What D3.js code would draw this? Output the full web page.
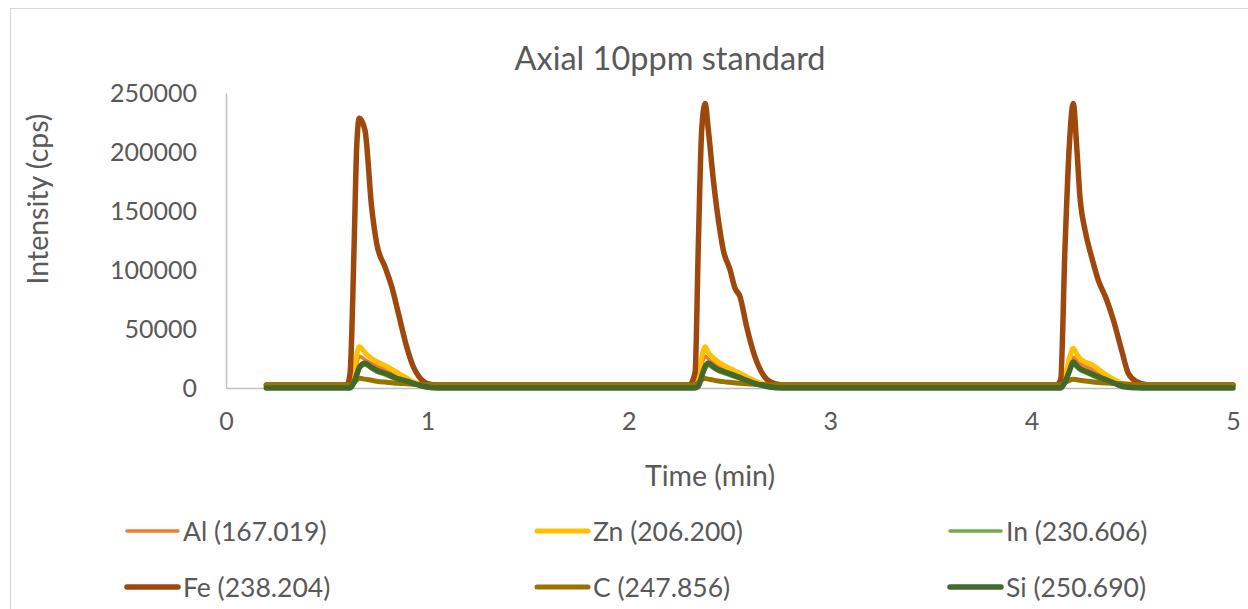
<!DOCTYPE html>
<html>
<head>
<meta charset="utf-8">
<script src="https://cdn.jsdelivr.net/npm/d3@7/dist/d3.min.js"></script>
<style>
  html, body { margin: 0; padding: 0; background: #ffffff; }
  svg { display: block; }
  text { font-family: Lato, "Open Sans", sans-serif; fill: #595959; }
</style>
</head>
<body>
<svg id="chart" width="1248" height="609"></svg>
<script>
// ---------------- data ----------------
const chartTitle = "Axial 10ppm standard";
const xAxisTitle = "Time (min)";
const yAxisTitle = "Intensity (cps)";
const xTicks = [0, 1, 2, 3, 4, 5];
const yTicks = [0, 50000, 100000, 150000, 200000, 250000];

const seriesNames = ["Al (167.019)", "Zn (206.200)", "In (230.606)", "Fe (238.204)", "C (247.856)", "Si (250.690)"];

const timeMin = [
  0.2, 0.60, 0.616, 0.636, 0.649, 0.662, 0.690, 0.723, 0.748, 0.789, 0.823, 0.856, 0.897, 0.930, 0.963, 0.997, 1.05,
  2.30, 2.329, 2.345, 2.362, 2.379, 2.395, 2.420, 2.445, 2.469, 2.503, 2.527, 2.552, 2.585, 2.626, 2.668, 2.701, 2.76,
  4.12, 4.144, 4.166, 4.187, 4.207, 4.224, 4.240, 4.265, 4.298, 4.331, 4.373, 4.406, 4.447, 4.480, 4.522, 4.58, 5.0
];

const alValues = [
  2500, 2500, 2800, 9000, 20000, 27000, 24000, 21000, 19000, 16000, 13000, 10000, 7000, 4500, 3000, 2500, 2500,
  2500, 2500, 7000, 19000, 27000, 24500, 21000, 18500, 16500, 14000, 12000, 10000, 7000, 4500, 3000, 2500, 2500,
  2500, 2500, 7000, 19000, 26000, 23500, 21000, 18500, 16000, 13000, 9000, 6000, 3500, 3000, 2500, 2500, 2500
];
const znValues = [
  2500, 2500, 3000, 12000, 28000, 35000, 30000, 25000, 22500, 19000, 16000, 12500, 8500, 5300, 3500, 2500, 2500,
  2500, 2500, 10000, 26000, 35000, 30000, 25500, 22000, 19500, 16500, 14500, 12500, 9500, 6000, 3500, 2500, 2500,
  2500, 2500, 10000, 25000, 33600, 29000, 25000, 22000, 20000, 16000, 11000, 7500, 4000, 3200, 2500, 2500, 2500
];
const inValues = [
  0, 0, 0, 4000, 10000, 16000, 19500, 16000, 13500, 11000, 8500, 6500, 4500, 3000, 1300, 400, 0,
  0, 0, 1000, 8500, 16000, 19000, 16500, 14000, 12500, 10500, 9000, 7500, 5300, 3000, 1300, 400, 0,
  0, 0, 4000, 12500, 20000, 17500, 15000, 13000, 10500, 8000, 5500, 3500, 1200, 500, 100, 0, 0
];
const feValues = [
  2500, 2500, 12500, 119700, 204500, 228600, 218600, 153600, 122600, 102800, 85800, 63300, 35000, 18000, 8500, 4000, 2500,
  2500, 12700, 119700, 218600, 241000, 218600, 176000, 142000, 117000, 100000, 84700, 77400, 52000, 26500, 11000, 5300, 2500,
  2500, 6800, 119700, 204500, 241000, 204500, 162000, 134000, 111000, 91500, 74600, 57600, 32000, 12500, 5300, 2500, 2500
];
const cValues = [
  2800, 2800, 2800, 4500, 7000, 8200, 7500, 6500, 5800, 5000, 4500, 4000, 3600, 3200, 2900, 2800, 2800,
  2800, 2800, 4500, 7000, 8000, 7500, 6700, 6000, 5400, 4800, 4400, 4000, 3600, 3200, 2900, 2800, 2800,
  2800, 2800, 4500, 6500, 7400, 7000, 6500, 6000, 5300, 4700, 4200, 3900, 3600, 3200, 2900, 2800, 2800
];
const siValues = [
  0, 0, 0, 5000, 11000, 17500, 21000, 17500, 15000, 12500, 10000, 7800, 5800, 4000, 2200, 900, 0,
  0, 0, 1500, 10000, 18000, 21000, 18000, 15500, 14000, 12000, 10500, 8800, 6500, 4000, 2000, 800, 0,
  0, 0, 5000, 14000, 22000, 19000, 16500, 14500, 12000, 9500, 6800, 4500, 1500, 600, 200, 0, 0
];

const seriesValues = [alValues, znValues, inValues, feValues, cValues, siValues];
const seriesColors = ["#ED7D31", "#FFC000", "#70AD47", "#9E480E", "#997300", "#43682B"];
const seriesWidths = [3.5, 5, 3.5, 5.5, 5, 5.5];

// ---------------- layout ----------------
const svg = d3.select("#chart");
const plot = { left: 226, right: 1233, top: 93, bottom: 388 };

svg.append("rect")
  .attr("x", 10.5).attr("y", 8.5)
  .attr("width", 1250).attr("height", 620)
  .attr("fill", "#ffffff").attr("stroke", "#d9d9d9").attr("stroke-width", 1);

const x = d3.scaleLinear().domain([0, 5]).range([plot.left, plot.right]);
const y = d3.scaleLinear().domain([0, 250000]).range([plot.bottom, plot.top]);

// title
svg.append("text")
  .attr("x", 670).attr("y", 57)
  .attr("text-anchor", "middle").attr("dominant-baseline", "central")
  .style("font-size", "32.5px")
  .text(chartTitle);

// y axis
const yAxis = svg.append("g")
  .attr("transform", `translate(${plot.left},0)`)
  .call(d3.axisLeft(y).tickValues(yTicks).tickFormat(d3.format("d")).tickSize(0).tickPadding(29));
yAxis.select(".domain").attr("stroke", "#bfbfbf").attr("stroke-width", 1.5);
yAxis.selectAll("text").style("font-size", "25px").attr("fill", "#595959")
  .attr("font-family", null);

// x axis
const xAxis = svg.append("g")
  .attr("transform", `translate(0,${plot.bottom})`)
  .call(d3.axisBottom(x).tickValues(xTicks).tickFormat(d3.format("d")).tickSize(0).tickPadding(24));
xAxis.select(".domain").attr("stroke", "#bfbfbf").attr("stroke-width", 1.5);
xAxis.selectAll("text").style("font-size", "25px").attr("fill", "#595959")
  .attr("font-family", null);

// axis titles
svg.append("text")
  .attr("x", 710).attr("y", 475)
  .attr("text-anchor", "middle").attr("dominant-baseline", "central")
  .style("font-size", "28.5px")
  .text(xAxisTitle);

svg.append("text")
  .attr("transform", "translate(37,199) rotate(-90)")
  .attr("text-anchor", "middle").attr("dominant-baseline", "central")
  .style("font-size", "28.5px")
  .text(yAxisTitle);

// lines
const line = d3.line()
  .x(d => x(d[0]))
  .y(d => y(d[1]))
  .curve(d3.curveMonotoneX);

seriesNames.forEach((name, i) => {
  const pts = timeMin.map((t, j) => [t, seriesValues[i][j]]);
  svg.append("path")
    .datum(pts)
    .attr("d", line)
    .attr("fill", "none")
    .attr("stroke", seriesColors[i])
    .attr("stroke-width", seriesWidths[i])
    .attr("stroke-linejoin", "round")
    .attr("stroke-linecap", "round");
});

// legend
const legendCols = [125, 535, 948];
const legendRows = [531, 587];
seriesNames.forEach((name, i) => {
  const cx = legendCols[i % 3];
  const cy = legendRows[Math.floor(i / 3)];
  const g = svg.append("g");
  g.append("line")
    .attr("x1", cx + 2).attr("x2", cx + 53)
    .attr("y1", cy).attr("y2", cy)
    .attr("stroke", seriesColors[i])
    .attr("stroke-width", seriesWidths[i])
    .attr("stroke-linecap", "round");
  g.append("text")
    .attr("x", cx + 58).attr("y", cy)
    .attr("dominant-baseline", "central")
    .style("font-size", "26.5px")
    .text(name);
});
</script>
</body>
</html>
